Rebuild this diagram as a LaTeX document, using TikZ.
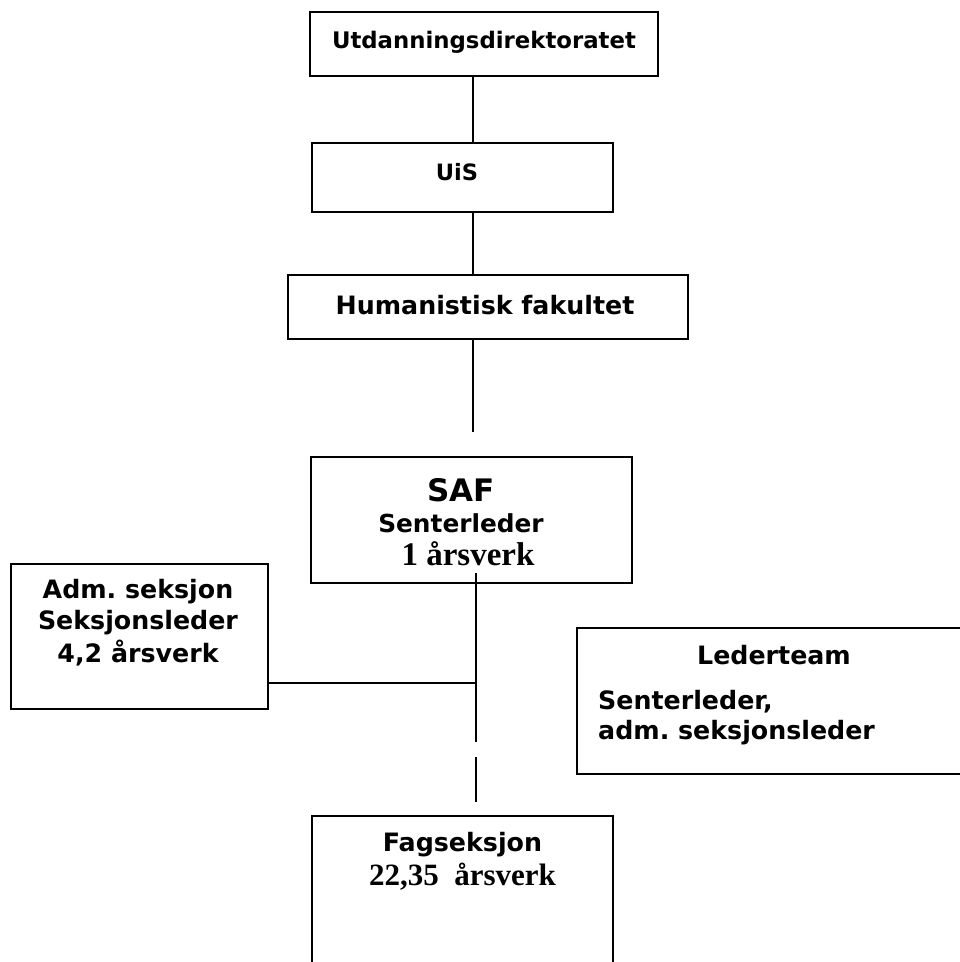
\documentclass[tikz,border=0pt]{standalone}
\usepackage{fontspec}
\setmainfont{DejaVu Sans}
\newfontfamily\serifb{Liberation Serif}
\frenchspacing
\begin{document}
\begin{tikzpicture}[x=1pt,y=-1pt,
  box/.style={draw=black,line width=1.9pt,rectangle,inner sep=0pt},
  conn/.style={draw=black,line width=1.9pt},
  lbl/.style={inner sep=0pt,anchor=center,font=\bfseries\fontsize{25.3}{29}\selectfont},
  slbl/.style={inner sep=0pt,anchor=center,font=\serifb\bfseries\fontsize{31}{34}\selectfont}]
\useasboundingbox (0,0) rectangle (960,962);
\clip (0,0) rectangle (960,962);
% boxes
\node[box,minimum width=348pt,minimum height=64pt] (b1) at (484,44) {};
\node[box,minimum width=301pt,minimum height=69pt] (b2) at (462.5,177.5) {};
\node[box,minimum width=400pt,minimum height=64pt] (b3) at (488,307) {};
\node[box,minimum width=321pt,minimum height=126pt] (saf) at (471.5,520) {};
\node[box,minimum width=257pt,minimum height=145pt] (adm) at (139.5,636.5) {};
\node[box,minimum width=420pt,minimum height=146pt] (led) at (787,701) {};
\node[box,minimum width=301pt,minimum height=200pt] (fag) at (462.5,916) {};
% texts
\node[lbl,font=\bfseries\fontsize{22.8}{26}\selectfont] (t1) at (484,42) {Utdanningsdirektoratet};
\node[lbl,font=\bfseries\fontsize{22.5}{26}\selectfont] (t2) at (457,172) {UiS};
\node[lbl] (t3) at (485,305) {Humanistisk fakultet};
\node[lbl,font=\bfseries\fontsize{31}{34}\selectfont] (t4) at (461,490) {SAF};
\node[lbl,font=\bfseries\fontsize{24.8}{28}\selectfont] (t5) at (461,523) {Senterleder};
\node[slbl,font=\serifb\bfseries\fontsize{33}{36}\selectfont] (t6) at (468,554) {1 årsverk};
\node[lbl] (t7) at (138,592) {Adm. seksjon};
\node[lbl] (t8) at (138,623) {Seksjonsleder};
\node[lbl] (t9) at (138,653) {4,2 årsverk};
\node[lbl] (t10) at (774,655) {Lederteam};
\node[lbl,anchor=west] (t11) at (598,702) {Senterleder,};
\node[lbl,anchor=west] (t12) at (598,733) {adm. seksjonsleder};
\node[lbl] (t13) at (462.5,845) {Fagseksjon};
\node[slbl] (t14) at (462.5,877) {22,35\ \ årsverk};
% connector coordinates
\coordinate (xa) at (473,0);
\coordinate (e1) at (473,432);
\coordinate (s1) at (476,573);
\coordinate (j1) at (476,683);
\coordinate (g1) at (476,742);
\coordinate (g2) at (476,757);
\coordinate (e2) at (476,802);
% connectors
\draw[conn] (b1.south -| xa) -- (b2.north -| xa);
\draw[conn] (b2.south -| xa) -- (b3.north -| xa);
\draw[conn] (b3.south -| xa) -- (e1);
\draw[conn] (s1) -- (g1);
\draw[conn] (g2) -- (e2);
\draw[conn] (adm.east |- j1) -- (j1);
\end{tikzpicture}
\end{document}
